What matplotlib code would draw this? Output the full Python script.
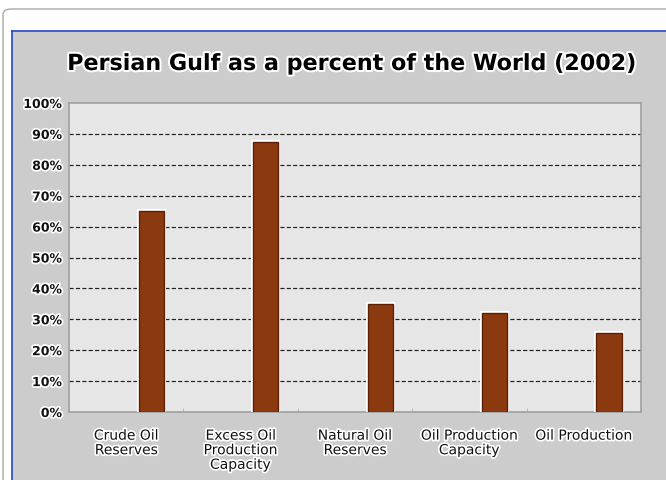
import matplotlib.pyplot as plt
import matplotlib.patheffects as pe
from matplotlib.patches import Rectangle, FancyBboxPatch
from matplotlib.lines import Line2D
import numpy as np

categories = ["Crude Oil\nReserves", "Excess Oil\nProduction\nCapacity",
              "Natural Oil\nReserves", "Oil Production\nCapacity", "Oil Production"]
share = [65, 87.5, 35, 32, 25.5]
ytick_vals = list(range(0, 101, 10))
ytick_labels = [f"{v}%" for v in ytick_vals]

halo = [pe.withStroke(linewidth=2.5, foreground="white")]

fig = plt.figure(figsize=(6.66, 4.81), dpi=100)
fig.patch.set_facecolor("white")

# outer rounded frame and the grey chart panel
fig.patches.append(FancyBboxPatch((3 / 666, -0.1), 1.1, 1 - 10 / 481 + 0.1,
                                  boxstyle="round,pad=0,rounding_size=0.012",
                                  transform=fig.transFigure, facecolor="white",
                                  edgecolor="#a8a8a8", linewidth=1.0, zorder=0))
fig.patches.append(Rectangle((12 / 666, -0.1), 1.1, 1 - 32 / 481 + 0.1,
                             transform=fig.transFigure, facecolor="#cccccc",
                             edgecolor="none", zorder=1))
fig.lines.append(Line2D([12 / 666, 12 / 666], [0, 1 - 32 / 481], transform=fig.transFigure,
                        color="#2846c8", linewidth=1.2, zorder=2))
fig.lines.append(Line2D([12 / 666, 1], [1 - 32 / 481, 1 - 32 / 481], transform=fig.transFigure,
                        color="#2846c8", linewidth=1.2, zorder=2))

ax = fig.add_axes([69 / 666, 68 / 481, 572 / 666, 309 / 481])
ax.set_zorder(5)
ax.set_facecolor("#e6e6e6")

x = np.arange(len(categories))
ax.bar(x + 0.22, share, width=0.22, color="#8b3a0f", edgecolor="#5c1f05",
       linewidth=1.0, zorder=3,
       path_effects=[pe.withStroke(linewidth=3, foreground="white")])

for v in ytick_vals[1:-1]:
    ax.axhline(v, color="#202020", linestyle=(0, (3, 1.6)), linewidth=1.0, zorder=2,
               path_effects=[pe.withStroke(linewidth=2.2, foreground="white")])

ax.set_xlim(-0.5, len(categories) - 0.5)
ax.set_ylim(0, 100)
ax.set_yticks(ytick_vals)
ax.set_yticklabels(ytick_labels, fontsize=9, fontweight="bold", color="#111111")
ax.set_xticks(x)
ax.set_xticklabels(categories, fontsize=10, color="#111111", linespacing=1.05)
ax.set_xticks(np.arange(len(categories) + 1) - 0.5, minor=True)
ax.tick_params(axis="y", length=0, pad=5)
ax.tick_params(axis="x", which="major", length=0, pad=12)
ax.tick_params(axis="x", which="minor", length=3, color="#b0b0b0", direction="in")
for lab in ax.get_xticklabels() + ax.get_yticklabels():
    lab.set_path_effects(halo)
for side in ["top", "right", "bottom", "left"]:
    ax.spines[side].set_color("#a0a0a0")
    ax.spines[side].set_linewidth(1.2)

fig.text(0.529, 1 - 65 / 481, "Persian Gulf as a percent of the World (2002)",
         ha="center", va="center", fontsize=16, fontweight="bold", color="black",
         zorder=6, path_effects=[pe.withStroke(linewidth=3, foreground="white")])

fig.savefig("out.png", dpi=100)
